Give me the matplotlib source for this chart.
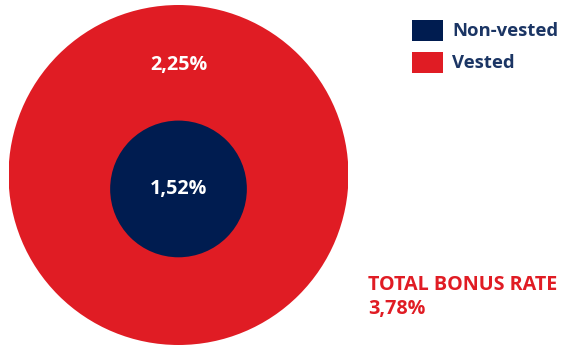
import matplotlib
matplotlib.use("Agg")
import matplotlib.pyplot as plt
from matplotlib.patches import Circle, Rectangle

# bonus rate split
labels = ["Non-vested", "Vested"]
values = [1.52, 2.25]
total_rate = 3.78
value_text = ["1,52%", "2,25%"]
total_text = "3,78%"

navy = "#001c50"
red = "#e01c24"
legend_text_col = "#1b3564"

plt.rcParams["font.family"] = ["Open Sans", "DejaVu Sans"]

W, H = 562, 347
fig = plt.figure(figsize=(W / 100, H / 100), dpi=100)

# the circles live in their own square axes, radius in rate units
ax = fig.add_axes([8 / W, 2 / H, 341 / W, 340 / H])
ax.set_xlim(-total_rate, total_rate)
ax.set_ylim(-total_rate, total_rate)
ax.set_aspect("equal")
ax.axis("off")

inner_y = -0.31
ax.add_patch(Circle((0, 0), total_rate, color=red, lw=0))
ax.add_patch(Circle((0, inner_y), values[0], color=navy, lw=0))

ax.text(0, inner_y, value_text[0], color="white", fontsize=14.2, fontweight="bold",
        ha="center", va="center")
ax.text(0, 2.45, value_text[1], color="white", fontsize=14.2, fontweight="bold",
        ha="center", va="center")

# legend drawn by hand in figure coords
for i, (lab, col) in enumerate(zip(labels, [navy, red])):
    y_top = [20, 52][i]
    fig.patches.append(Rectangle((412 / W, 1 - (y_top + 21) / H), 31 / W, 21 / H,
                                 transform=fig.transFigure, color=col, lw=0))
    fig.text(452 / W, 1 - (y_top + 11) / H, lab, color=legend_text_col, fontsize=13.3,
             fontweight="bold", ha="left", va="center")

fig.text(368 / W, 1 - 285 / H, "TOTAL BONUS RATE", color=red, fontsize=14.2,
         fontweight="bold", ha="left", va="center")
fig.text(368 / W, 1 - 309 / H, total_text, color=red, fontsize=14.2,
         fontweight="bold", ha="left", va="center")

fig.savefig("out.png", dpi=100, facecolor="white")
